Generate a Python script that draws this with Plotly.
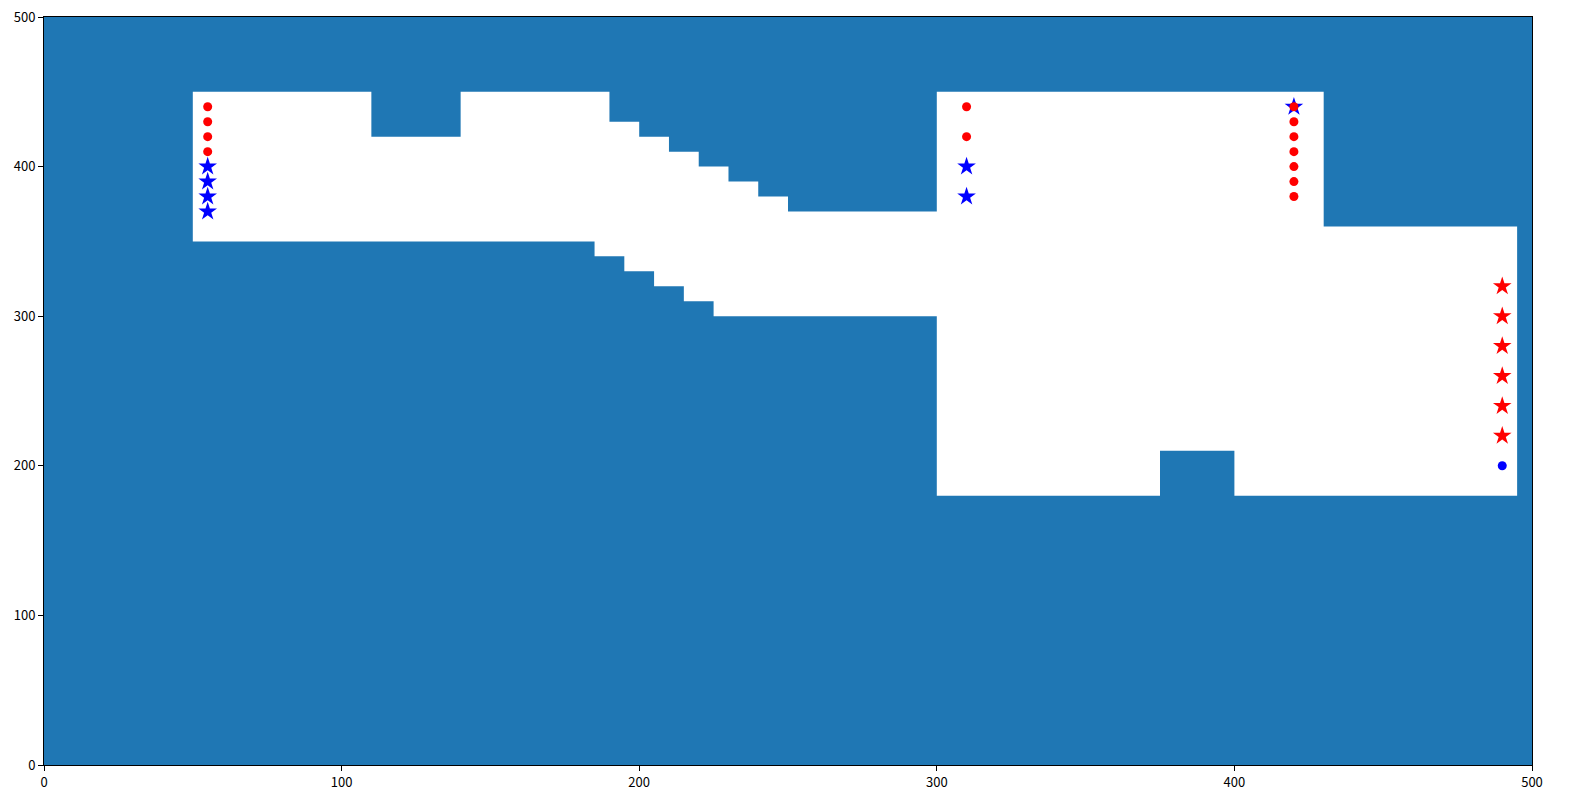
import plotly.graph_objects as go

# free-space outline (white polygon on the blue background)
free_x = [50, 110, 110, 140, 140, 190, 190, 200, 200, 210, 210, 220, 220, 230, 230, 240, 240, 250, 250,
          300, 300, 430, 430, 495, 495, 400, 400, 375, 375, 300, 300, 225, 225, 215, 215, 205, 205,
          195, 195, 185, 185, 50, 50]
free_y = [450, 450, 420, 420, 450, 450, 430, 430, 420, 420, 410, 410, 400, 400, 390, 390, 380, 380, 370,
          370, 450, 450, 360, 360, 180, 180, 210, 210, 180, 180, 300, 300, 310, 310, 320, 320, 330,
          330, 340, 340, 350, 350, 450]

# markers
blue_star_x = [55, 55, 55, 55, 310, 310, 420]
blue_star_y = [400, 390, 380, 370, 400, 380, 440]
red_star_x = [490, 490, 490, 490, 490, 490]
red_star_y = [320, 300, 280, 260, 240, 220]
blue_dot_x = [490]
blue_dot_y = [200]
red_dot_x = [55, 55, 55, 55, 310, 310, 420, 420, 420, 420, 420, 420, 420]
red_dot_y = [440, 430, 420, 410, 440, 420, 440, 430, 420, 410, 400, 390, 380]

fig = go.Figure()
fig.add_trace(go.Scatter(x=free_x, y=free_y, mode='lines', fill='toself',
                         fillcolor='white', line=dict(width=0, color='white'),
                         hoverinfo='skip'))
fig.add_trace(go.Scatter(x=blue_star_x, y=blue_star_y, mode='markers',
                         marker=dict(symbol='star', size=14, color='blue', line=dict(width=0))))
fig.add_trace(go.Scatter(x=red_star_x, y=red_star_y, mode='markers',
                         marker=dict(symbol='star', size=14, color='red', line=dict(width=0))))
fig.add_trace(go.Scatter(x=blue_dot_x, y=blue_dot_y, mode='markers',
                         marker=dict(symbol='circle', size=9, color='blue', line=dict(width=0))))
fig.add_trace(go.Scatter(x=red_dot_x, y=red_dot_y, mode='markers',
                         marker=dict(symbol='circle', size=9, color='red', line=dict(width=0))))

axis_style = dict(
    range=[0, 500], tickvals=[0, 100, 200, 300, 400, 500], automargin=False,
    ticklabeloverflow='allow',
    showgrid=False, zeroline=False, showline=True, linecolor='black', linewidth=1,
    mirror=True, ticks='outside', ticklen=5, tickcolor='black', tickwidth=1,
)

fig.update_layout(
    width=1577, height=812,
    margin=dict(l=36, r=53, t=9, b=55),
    paper_bgcolor='white', plot_bgcolor='#1f77b4',
    showlegend=False,
    font=dict(family='Noto Sans CJK JP', size=13, color='black'),
    xaxis=axis_style,
    yaxis=axis_style,
)

fig.write_html('out.html')
